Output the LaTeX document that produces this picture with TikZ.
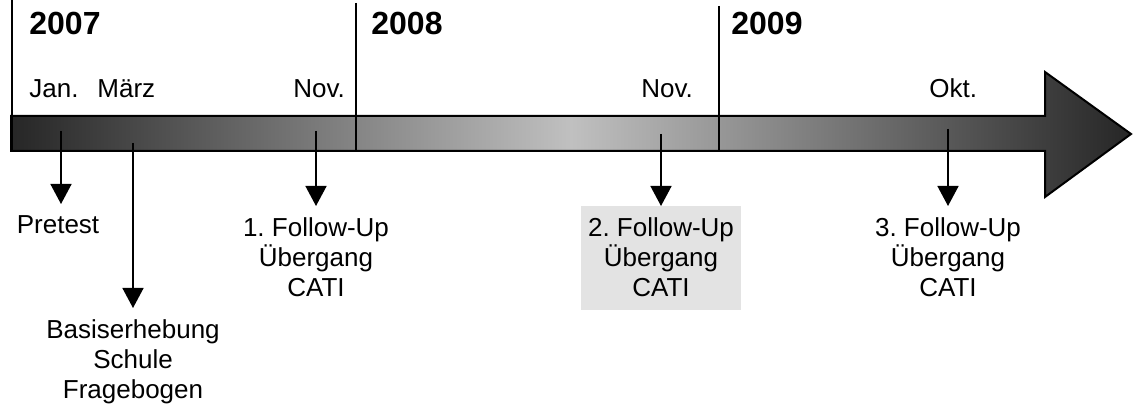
\documentclass[tikz,border=0pt]{standalone}
\usepackage{fontspec}
\setmainfont{Liberation Sans}
\usetikzlibrary{arrows.meta}
\definecolor{boxgray}{RGB}{227,227,227}
\definecolor{bardark}{RGB}{38,38,38}
\definecolor{barlight}{RGB}{192,192,192}
\frenchspacing

\begin{document}
\begin{tikzpicture}[x=0.5pt,y=-0.5pt,
    year/.style={anchor=base west,inner sep=0pt,font=\fontsize{16}{18}\selectfont\bfseries},
    month/.style={anchor=base west,inner sep=0pt,font=\fontsize{13}{15}\selectfont},
    event/.style={anchor=north,align=center,inner xsep=3.75pt,inner ysep=5.5pt,font=\fontsize{13}{15}\selectfont},
    current/.style={fill=boxgray,text depth=1.5pt},
    evarrow/.style={line width=0.75pt,-{Triangle[width=10.5pt,length=10pt]}}]
                \useasboundingbox (0,0) rectangle (1133,405);
                % Zeitstrahl
                \draw[line width=1pt,left color=bardark,right color=bardark,middle color=barlight]
                    (11,116) -- (1045,116) -- (1045,72) -- (1131,134) -- (1045,197) -- (1045,151) -- (11,151) -- cycle;
                \draw[line width=0.6pt] (12,0) -- (12,151);
                \draw[line width=0.6pt] (356,3) -- (356,151);
                \draw[line width=0.6pt] (719,6) -- (719,151);
                % Jahre
                \node[year] (y2007) at (29,35) {2007};
                \node[year] (y2008) at (371,35) {2008};
                \node[year] (y2009) at (731,35) {2009};
                % Monate
                \node[month] (jan) at (29,98) {Jan.};
                \node[month] (maerz) at (97,98) {März};
                \node[month] (nov1) at (293,98) {Nov.};
                \node[month] (nov2) at (641,98) {Nov.};
                \node[month] (okt) at (929,98) {Okt.};
                \coordinate (tjan) at (61,131);
                \coordinate (tmaerz) at (133,143);
                \coordinate (tnov1) at (316,131);
                \coordinate (tnov2) at (661,134);
                \coordinate (tokt) at (948,129);
                % Erhebungen
                \node[event] (pretest) at (58,204) {Pretest};
                \node[event] (basis) at (133,308) {Basiserhebung\\Schule\\Fragebogen};
                \node[event] (fu1) at (316,206) {1. Follow-Up\\Übergang\\CATI};
                \node[event,current] (fu2) at (661,206) {2. Follow-Up\\Übergang\\CATI};
                \node[event] (fu3) at (948,206) {3. Follow-Up\\Übergang\\CATI};
                \draw[evarrow] (tjan) -- (tjan |- pretest.north);
                \draw[evarrow] (tmaerz) -- (tmaerz |- basis.north);
                \draw[evarrow] (tnov1) -- (tnov1 |- fu1.north);
                \draw[evarrow] (tnov2) -- (tnov2 |- fu2.north);
                \draw[evarrow] (tokt) -- (tokt |- fu3.north);
\end{tikzpicture}
\end{document}
